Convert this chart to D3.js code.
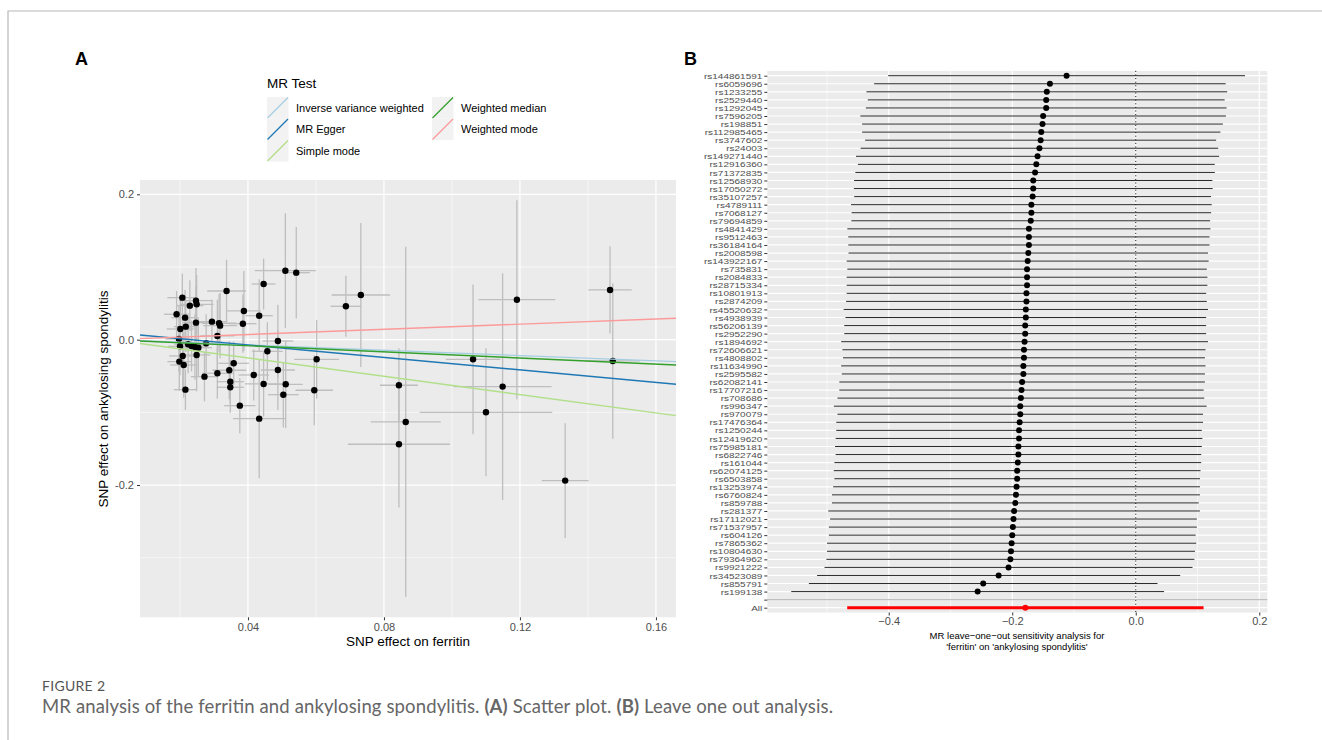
<!DOCTYPE html>
<html>
<head>
<meta charset="utf-8">
<script src="https://cdn.jsdelivr.net/npm/d3@7"></script>
<style>
body{margin:0;background:#fff;}
svg text{font-family:"Liberation Sans",Arial,sans-serif;}
</style>
</head>
<body>
<svg id="fig" width="1322" height="740"></svg>
<script>
// ---- panel A: SNP effects (ferritin vs ankylosing spondylitis)
var snpX  = [0.0207,0.0190,0.0229,0.0247,0.0249,0.0215,0.0201,0.0217,0.0247,0.0197,0.0200,0.0208,0.0198,0.0211,0.0216,
             0.0224,0.0234,0.0244,0.0254,0.0249,0.0272,0.0277,0.0294,0.0310,0.0315,0.0318,0.0337,0.0310,0.0345,0.0358,
             0.0348,0.0348,0.0376,0.0388,0.0385,0.0417,0.0433,0.0446,0.0457,0.0433,0.0446,0.0488,0.0488,0.0510,0.0542,
             0.0511,0.0504,0.0602,0.0595,0.0688,0.0732,0.0844,0.0864,0.0844,0.1062,0.1149,0.1191,0.1100,0.1465,0.1473,0.1333];
var snpY  = [0.0578,0.0350,0.0468,0.0537,0.0487,0.0303,0.0147,0.0179,0.0234,0.0010,-0.0091,-0.0224,-0.0302,-0.0348,-0.0688,
             -0.0063,-0.0087,-0.0100,-0.0110,-0.0210,-0.0509,-0.0050,0.0248,0.0051,0.0226,0.0193,0.0670,-0.0462,-0.0421,-0.0325,
             -0.0578,-0.0655,-0.0908,0.0395,0.0220,-0.0486,0.0330,0.0766,-0.0160,-0.1087,-0.0609,-0.0018,-0.0417,0.0949,0.0922,
             -0.0614,-0.0757,-0.0270,-0.0696,0.0459,0.0615,-0.0627,-0.1132,-0.1439,-0.0270,-0.0646,0.0550,-0.0999,0.0684,-0.0293,-0.1939];
var snpSeX = [0.0044,0.0037,0.0040,0.0050,0.0050,0.0040,0.0040,0.0035,0.0040,0.0040,0.0035,0.0040,0.0035,0.0040,0.0034,
              0.0040,0.0040,0.0040,0.0040,0.0040,0.0040,0.0045,0.0045,0.0050,0.0050,0.0050,0.0057,0.0045,0.0050,0.0045,
              0.0040,0.0040,0.0046,0.0050,0.0040,0.0045,0.0040,0.0035,0.0045,0.0077,0.0055,0.0045,0.0050,0.0090,0.0040,
              0.0050,0.0045,0.0066,0.0055,0.0045,0.0086,0.0056,0.0103,0.0150,0.0080,0.0144,0.0113,0.0195,0.0064,0.0080,0.0069];
var snpSeY = [0.033,0.032,0.035,0.045,0.040,0.038,0.040,0.035,0.050,0.045,0.040,0.045,0.040,0.045,0.028,
              0.040,0.035,0.045,0.040,0.050,0.034,0.040,0.030,0.050,0.040,0.045,0.043,0.035,0.040,0.030,
              0.030,0.035,0.038,0.055,0.040,0.035,0.050,0.035,0.040,0.082,0.045,0.050,0.055,0.079,0.063,
              0.060,0.045,0.054,0.048,0.042,0.099,0.051,0.241,0.087,0.103,0.156,0.137,0.088,0.060,0.107,0.079];

var methods    = ["Inverse variance weighted","MR Egger","Simple mode","Weighted median","Weighted mode"];
var slopes     = [-0.182,-0.430,-0.630,-0.210,0.178];
var intercepts = [0,0.0100,0,0,0];
var methodCols = ["#a6cee3","#1f78b4","#b2df8a","#33a02c","#fb9a99"];

// ---- panel B: leave-one-out
var looSNP = ["rs144861591","rs6059696","rs1233255","rs2529440","rs1292045","rs7596205","rs198851","rs112985465","rs3747602","rs24003",
  "rs149271440","rs12916360","rs71372835","rs12568930","rs17050272","rs35107257","rs4789111","rs7068127","rs79694859","rs4841429",
  "rs9512463","rs36184164","rs2008598","rs143922167","rs735831","rs2084833","rs28715334","rs10801913","rs2874209","rs45520632",
  "rs4938939","rs56206139","rs2952290","rs1894692","rs72606621","rs4808802","rs11634990","rs2595582","rs62082141","rs17707216",
  "rs708686","rs996347","rs970079","rs17476364","rs1250244","rs12419620","rs75985181","rs6822746","rs161044","rs62074125",
  "rs6503858","rs13253974","rs6760824","rs859788","rs281377","rs17112021","rs71537957","rs604126","rs7865362","rs10804630",
  "rs79364962","rs9921222","rs34523089","rs855791","rs199138"];
var looB = [-0.112,-0.139,-0.144,-0.145,-0.145,-0.150,-0.151,-0.153,-0.154,-0.156,
  -0.159,-0.161,-0.163,-0.166,-0.166,-0.167,-0.169,-0.169,-0.170,-0.173,
  -0.173,-0.173,-0.174,-0.175,-0.176,-0.176,-0.176,-0.177,-0.177,-0.178,
  -0.178,-0.179,-0.179,-0.180,-0.181,-0.181,-0.182,-0.182,-0.184,-0.185,
  -0.186,-0.187,-0.187,-0.188,-0.189,-0.189,-0.190,-0.190,-0.191,-0.192,
  -0.192,-0.193,-0.194,-0.195,-0.197,-0.198,-0.199,-0.200,-0.201,-0.202,
  -0.203,-0.206,-0.222,-0.247,-0.256];
var looSE = [0.1474,0.1452,0.1490,0.1474,0.1490,0.1510,0.1490,0.1480,0.1450,0.1477,
  0.1500,0.1474,0.1485,0.1480,0.1482,0.1474,0.1490,0.1485,0.1482,0.1500,
  0.1492,0.1492,0.1485,0.1495,0.1485,0.1490,0.1490,0.1485,0.1490,0.1505,
  0.1490,0.1495,0.1495,0.1515,0.1500,0.1495,0.1505,0.1500,0.1510,0.1505,
  0.1515,0.1540,0.1510,0.1515,0.1510,0.1515,0.1515,0.1510,0.1515,0.1515,
  0.1510,0.1515,0.1520,0.1515,0.1535,0.1515,0.1520,0.1515,0.1525,0.1520,
  0.1520,0.1520,0.1500,0.1440,0.1540];
var allB = -0.1787, allSE = 0.1472;

var xTicksA = [0.04,0.08,0.12,0.16], yTicksA = [-0.2,0,0.2];
var xTicksB = [-0.4,-0.2,0,0.2];

var svg = d3.select("#fig");
svg.append("path").attr("d","M8,740V11H1322").attr("fill","none").attr("stroke","#b8b8b8").attr("stroke-width",1.2);

function styleAxis(g, size){
  g.select(".domain").remove();
  g.selectAll(".tick line").attr("stroke","#333").attr("stroke-width",1);
  g.selectAll(".tick text").attr("fill","#4d4d4d").style("font-size",size+"px");
}

// ================= panel A =================
var xA = d3.scaleLinear().domain([0.00824,0.1659]).range([140,676]);
var yA = d3.scaleLinear().domain([-0.382,0.2197]).range([617.3,180]);
var gA = svg.append("g");
gA.append("rect").attr("x",140).attr("y",180).attr("width",536).attr("height",437.3).attr("fill","#ebebeb");
gA.selectAll(".xmin").data([0.02,0.06,0.10,0.14]).enter().append("line")
  .attr("x1",d=>xA(d)).attr("x2",d=>xA(d)).attr("y1",180).attr("y2",617.3)
  .attr("stroke","#fff").attr("stroke-width",0.6);
gA.selectAll(".ymin").data([-0.3,-0.1,0.1]).enter().append("line")
  .attr("y1",d=>yA(d)).attr("y2",d=>yA(d)).attr("x1",140).attr("x2",676)
  .attr("stroke","#fff").attr("stroke-width",0.6);
gA.selectAll(".xmaj").data(xTicksA).enter().append("line")
  .attr("x1",d=>xA(d)).attr("x2",d=>xA(d)).attr("y1",180).attr("y2",617.3)
  .attr("stroke","#fff").attr("stroke-width",1.2);
gA.selectAll(".ymaj").data(yTicksA).enter().append("line")
  .attr("y1",d=>yA(d)).attr("y2",d=>yA(d)).attr("x1",140).attr("x2",676)
  .attr("stroke","#fff").attr("stroke-width",1.2);

svg.append("clipPath").attr("id","clipA").append("rect")
  .attr("x",140).attr("y",180).attr("width",536).attr("height",437.3);
var plotA = gA.append("g").attr("clip-path","url(#clipA)");
var idx = d3.range(snpX.length);
plotA.selectAll(".ev").data(idx).enter().append("line")
  .attr("x1",i=>xA(snpX[i])).attr("x2",i=>xA(snpX[i]))
  .attr("y1",i=>yA(snpY[i]-snpSeY[i])).attr("y2",i=>yA(snpY[i]+snpSeY[i]))
  .attr("stroke","#bebebe").attr("stroke-width",1.3);
plotA.selectAll(".eh").data(idx).enter().append("line")
  .attr("y1",i=>yA(snpY[i])).attr("y2",i=>yA(snpY[i]))
  .attr("x1",i=>xA(snpX[i]-snpSeX[i])).attr("x2",i=>xA(snpX[i]+snpSeX[i]))
  .attr("stroke","#bebebe").attr("stroke-width",1.3);
plotA.selectAll(".pt").data(idx).enter().append("circle")
  .attr("cx",i=>xA(snpX[i])).attr("cy",i=>yA(snpY[i])).attr("r",3.2).attr("fill","#000");
var xd = xA.domain();
plotA.selectAll(".ml").data(d3.range(methods.length)).enter().append("line")
  .attr("x1",xA(xd[0])).attr("x2",xA(xd[1]))
  .attr("y1",i=>yA(intercepts[i]+slopes[i]*xd[0]))
  .attr("y2",i=>yA(intercepts[i]+slopes[i]*xd[1]))
  .attr("stroke",i=>methodCols[i]).attr("stroke-width",1.4);

var axA = gA.append("g").attr("transform","translate(0,617.3)")
  .call(d3.axisBottom(xA).tickValues(xTicksA).tickSize(3).tickPadding(3).tickFormat(d=>d.toFixed(2)));
styleAxis(axA, 11);
var ayA = gA.append("g").attr("transform","translate(140,0)")
  .call(d3.axisLeft(yA).tickValues(yTicksA).tickSize(3).tickPadding(3).tickFormat(d=>d.toFixed(1)));
styleAxis(ayA, 11);

gA.append("text").attr("x",408).attr("y",646).attr("text-anchor","middle")
  .style("font-size","13.5px").attr("fill","#000").text("SNP effect on ferritin");
gA.append("text").attr("transform","translate(108,399) rotate(-90)").attr("text-anchor","middle")
  .style("font-size","13.5px").attr("fill","#000").text("SNP effect on ankylosing spondylitis");

// legend
var lg = gA.append("g");
lg.append("text").attr("x",267).attr("y",88).style("font-size","13.5px").attr("fill","#000").text("MR Test");
var legPos = [[267,97],[267,118.5],[267,140],[432,97],[432,118.5]];
methods.forEach(function(m,i){
  var p = legPos[i];
  lg.append("rect").attr("x",p[0]).attr("y",p[1]).attr("width",21.5).attr("height",21.5).attr("fill","#f2f2f2");
  lg.append("line").attr("x1",p[0]+0.5).attr("y1",p[1]+21).attr("x2",p[0]+21).attr("y2",p[1]+0.5)
    .attr("stroke",methodCols[i]).attr("stroke-width",1.3);
  lg.append("text").attr("x",p[0]+29).attr("y",p[1]+14.5).style("font-size","11px").attr("fill","#000").text(m);
});

svg.append("text").attr("x",75).attr("y",65).style("font-size","18px").style("font-weight","bold").text("A");

// ================= panel B =================
var rowsB = looSNP.concat(["","All"]);
var xB = d3.scaleLinear().domain([-0.5966,0.213]).range([767.3,1267.3]);
var yB = d3.scalePoint().domain(rowsB).range([75.7,607.7]);
var gB = svg.append("g");
gB.append("rect").attr("x",767.3).attr("y",70.9).attr("width",500).attr("height",541.6).attr("fill","#ebebeb");
gB.selectAll(".bxmin").data([-0.5,-0.3,-0.1,0.1]).enter().append("line")
  .attr("x1",d=>xB(d)).attr("x2",d=>xB(d)).attr("y1",70.9).attr("y2",612.5)
  .attr("stroke","#fff").attr("stroke-width",0.6);
gB.selectAll(".bxmaj").data(xTicksB).enter().append("line")
  .attr("x1",d=>xB(d)).attr("x2",d=>xB(d)).attr("y1",70.9).attr("y2",612.5)
  .attr("stroke","#fff").attr("stroke-width",1.2);
gB.selectAll(".bymaj").data(rowsB).enter().append("line")
  .attr("y1",d=>yB(d)).attr("y2",d=>yB(d)).attr("x1",767.3).attr("x2",1267.3)
  .attr("stroke","#fff").attr("stroke-width",1.2);

gB.append("line").attr("x1",xB(0)).attr("x2",xB(0)).attr("y1",70.9).attr("y2",612.5)
  .attr("stroke","#000").attr("stroke-width",1).attr("stroke-dasharray","1,2.6");
gB.selectAll(".loo").data(looSNP).enter().append("line")
  .attr("y1",d=>yB(d)).attr("y2",d=>yB(d))
  .attr("x1",(d,i)=>xB(looB[i]-1.96*looSE[i])).attr("x2",(d,i)=>xB(looB[i]+1.96*looSE[i]))
  .attr("stroke","#111").attr("stroke-width",0.9);
gB.selectAll(".loop").data(looSNP).enter().append("circle")
  .attr("cy",d=>yB(d)).attr("cx",(d,i)=>xB(looB[i])).attr("r",3).attr("fill","#000");
gB.append("line").attr("y1",yB("")).attr("y2",yB("")).attr("x1",767.3).attr("x2",1267.3)
  .attr("stroke","#bebebe").attr("stroke-width",1.2);
gB.append("line").attr("y1",yB("All")).attr("y2",yB("All"))
  .attr("x1",xB(allB-1.96*allSE)).attr("x2",xB(allB+1.96*allSE))
  .attr("stroke","#ff0000").attr("stroke-width",3);
gB.append("circle").attr("cx",xB(allB)).attr("cy",yB("All")).attr("r",3).attr("fill","#ff0000");

var axB = gB.append("g").attr("transform","translate(0,612.5)")
  .call(d3.axisBottom(xB).tickValues(xTicksB).tickSize(3).tickPadding(2).tickFormat(d3.format(".1f")));
styleAxis(axB, 11);
var ayB = gB.append("g").attr("transform","translate(767.3,0)")
  .call(d3.axisLeft(yB).tickSize(3).tickPadding(2));
styleAxis(ayB, 10);
// rows are only 8px apart: squeeze the labels vertically so they do not collide
ayB.selectAll(".tick text").attr("dy","0.36em").attr("transform","scale(1,0.72)");

gB.append("text").attr("x",1017).attr("y",638.5).attr("text-anchor","middle")
  .style("font-size","9.5px").attr("fill","#000").text("MR leave\u2212one\u2212out sensitivity analysis for");
gB.append("text").attr("x",1017).attr("y",649.5).attr("text-anchor","middle")
  .style("font-size","9.5px").attr("fill","#000").text("'ferritin' on 'ankylosing spondylitis'");

svg.append("text").attr("x",684).attr("y",65).style("font-size","18px").style("font-weight","bold").text("B");

// ================= caption =================
svg.append("text").attr("x",42).attr("y",691).style("font-family","Lato, 'Open Sans', sans-serif")
  .style("font-size","14px").attr("fill","#555").attr("textLength",63).text("FIGURE 2");
var cap = svg.append("text").attr("x",42).attr("y",713).style("font-family","Lato, 'Open Sans', sans-serif")
  .style("font-size","18.5px").attr("fill","#666").attr("textLength",791).attr("lengthAdjust","spacing");
cap.append("tspan").text("MR analysis of the ferritin and ankylosing spondylitis. ");
cap.append("tspan").style("font-weight","bold").text("(A)");
cap.append("tspan").text(" Scatter plot. ");
cap.append("tspan").style("font-weight","bold").text("(B)");
cap.append("tspan").text(" Leave one out analysis.");
</script>
</body>
</html>
